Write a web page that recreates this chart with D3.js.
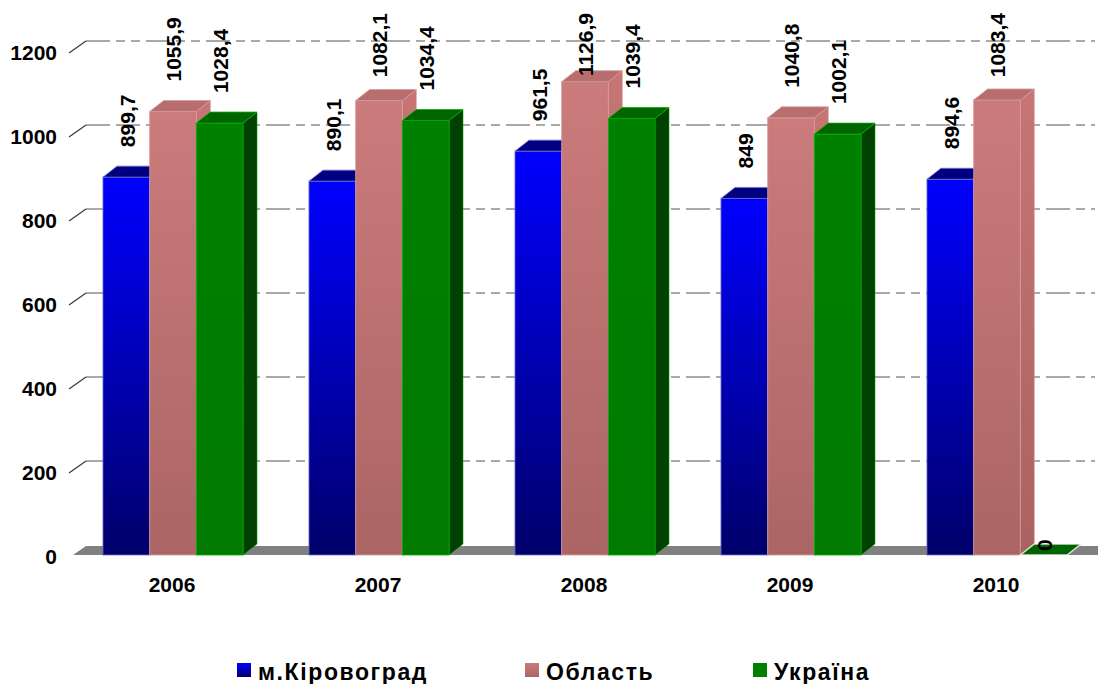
<!DOCTYPE html>
<html>
<head>
<meta charset="utf-8">
<script src="https://cdn.jsdelivr.net/npm/d3@7/dist/d3.min.js"></script>
<style>
  html, body { margin: 0; padding: 0; background: #fff; }
  svg { display: block; font-family: "Liberation Sans", Arial, sans-serif; }
</style>
</head>
<body>
<svg id="chart" width="1098" height="684"></svg>
<script>
// ---------- data ----------
const years = ["2006", "2007", "2008", "2009", "2010"];
const kirovohrad = [899.7, 890.1, 961.5, 849, 894.6];
const oblast = [1055.9, 1082.1, 1126.9, 1040.8, 1083.4];
const ukraine = [1028.4, 1034.4, 1039.4, 1002.1, 0];
const seriesNames = ["м.Кіровоград", "Область", "Україна"];
const yTicks = [0, 200, 400, 600, 800, 1000, 1200];

// ---------- layout ----------
const W = 1098, H = 684;
const svg = d3.select("#chart");
const depth = { dx: 14, dy: -11 };   // bar depth
const wall = { dx: 13, dy: -10 };    // back wall offset

const y = d3.scaleLinear().domain([0, 1200]).range([555, 51]);
const x = d3.scaleBand().domain(years).range([70, 1100])
  .paddingInner(0.32).paddingOuter(0.16);
const xs = d3.scaleBand().domain(d3.range(3)).range([0, x.bandwidth()]);

const seriesData = [kirovohrad, oblast, ukraine];

// ---------- gradients ----------
const defs = svg.append("defs");
function vGrad(id, stops) {
  const g = defs.append("linearGradient").attr("id", id)
    .attr("x1", 0).attr("y1", 0).attr("x2", 0).attr("y2", 1);
  stops.forEach(s => g.append("stop").attr("offset", s[0]).attr("stop-color", s[1]));
}
vGrad("gBlue", [[0, "#0000ff"], [1, "#00006a"]]);
vGrad("gPink", [[0, "#cb7b7b"], [1, "#ab6565"]]);
vGrad("gPinkSide", [[0, "#c77575"], [1, "#a96262"]]);
vGrad("gGreen", [[0, "#008000"], [1, "#007a00"]]);

const styles = [
  { front: "url(#gBlue)", top: "#000080", side: "#00004a", stroke: "#7070d0", legend: "url(#gBlue)" },
  { front: "url(#gPink)", top: "#b86e6e", side: "url(#gPinkSide)", stroke: "#d49a9a", legend: "url(#gPink)" },
  { front: "url(#gGreen)", top: "#006400", side: "#004000", stroke: "#00b000", legend: "#008000" }
];

// ---------- floor ----------
const x0 = x.range()[0];
const floorFrontL = x0 + 3;
svg.append("path")
  .attr("d", `M${floorFrontL},${y(0)} L${floorFrontL + wall.dx},${y(0) + wall.dy + 1} L${W + 5},${y(0) + wall.dy + 1} L${W + 5},${y(0)} Z`)
  .attr("fill", "#808080");

// ---------- grid lines on the back wall ----------
const grid = svg.append("g");
yTicks.filter(t => t > 0).forEach(t => {
  const yf = y(t);
  grid.append("path")
    .attr("d", `M${x0 - 1},${yf + 2} L${floorFrontL + wall.dx},${yf + wall.dy}`)
    .attr("stroke", "#333").attr("stroke-width", 1.1).attr("fill", "none");
  grid.append("line")
    .attr("x1", floorFrontL + wall.dx).attr("x2", 1095)
    .attr("y1", yf + wall.dy).attr("y2", yf + wall.dy)
    .attr("stroke", "#555").attr("stroke-width", 1.2)
    .attr("stroke-dasharray", "24,6,9,6,9,6");
});

// y tick labels
svg.append("g").selectAll("text").data(yTicks).join("text")
  .attr("x", 57).attr("y", d => y(d) + 2).attr("dy", "0.35em")
  .attr("text-anchor", "end").attr("font-size", 21).attr("font-weight", "bold")
  .attr("fill", "#000").text(d => d);

// ---------- bars ----------
const bars = svg.append("g");
years.forEach((yr, i) => {
  seriesData.forEach((ser, j) => {
    const v = ser[i];
    const st = styles[j];
    const bx = x(yr) + xs(j);
    const bw = xs.bandwidth();
    const yt = y(v), yb = y(0);
    const g = bars.append("g");
    // side face
    g.append("path")
      .attr("d", `M${bx + bw},${yt} L${bx + bw + depth.dx},${yt + depth.dy} L${bx + bw + depth.dx},${yb + depth.dy} L${bx + bw},${yb} Z`)
      .attr("fill", st.side).attr("stroke", st.stroke).attr("stroke-width", 0.8).attr("stroke-opacity", 0.6);
    // front face
    if (v > 0) {
      g.append("rect")
        .attr("x", bx).attr("y", yt).attr("width", bw).attr("height", yb - yt)
        .attr("fill", st.front).attr("stroke", st.stroke).attr("stroke-width", 1).attr("stroke-opacity", 0.8);
    }
    // top face
    g.append("path")
      .attr("d", `M${bx},${yt} L${bx + depth.dx},${yt + depth.dy} L${bx + bw + depth.dx},${yt + depth.dy} L${bx + bw},${yt} Z`)
      .attr("fill", st.top).attr("stroke", v > 0 ? st.stroke : "#fff").attr("stroke-width", v > 0 ? 1 : 1.5).attr("stroke-opacity", 0.8);
  });
});

// ---------- value labels ----------
const fmt = v => String(v).replace(".", ",");
const labels = svg.append("g");
years.forEach((yr, i) => {
  seriesData.forEach((ser, j) => {
    const v = ser[i];
    const cx = x(yr) + xs(j) + xs.bandwidth() / 2 + 1;
    const gap = v > 0 ? 30 : 4;
    const t = labels.append("text")
      .attr("dy", "0.35em")
      .attr("text-anchor", "start")
      .attr("font-size", 21)
      .attr("font-weight", "bold")
      .attr("fill", "#000")
      .text(fmt(v));
    const len = t.node().getComputedTextLength();
    const bottom = Math.max(y(v) - gap, 13 + len);
    t.attr("transform", `translate(${cx},${bottom}) rotate(-90)`);
  });
});

// ---------- x labels ----------
svg.append("g").selectAll("text").data(years).join("text")
  .attr("x", d => x(d) + x.bandwidth() / 2 - 1)
  .attr("y", 592)
  .attr("text-anchor", "middle").attr("font-size", 21).attr("font-weight", "bold")
  .text(d => d);

// ---------- legend ----------
const legendX = [237, 525, 753];
const leg = svg.append("g");
seriesNames.forEach((name, j) => {
  leg.append("rect")
    .attr("x", legendX[j]).attr("y", 663).attr("width", 14).attr("height", 14)
    .attr("fill", styles[j].legend);
  leg.append("text")
    .attr("x", legendX[j] + 21).attr("y", 680)
    .attr("font-size", 23).attr("font-weight", "bold")
    .attr("letter-spacing", 1.6)
    .text(name);
});
</script>
</body>
</html>
